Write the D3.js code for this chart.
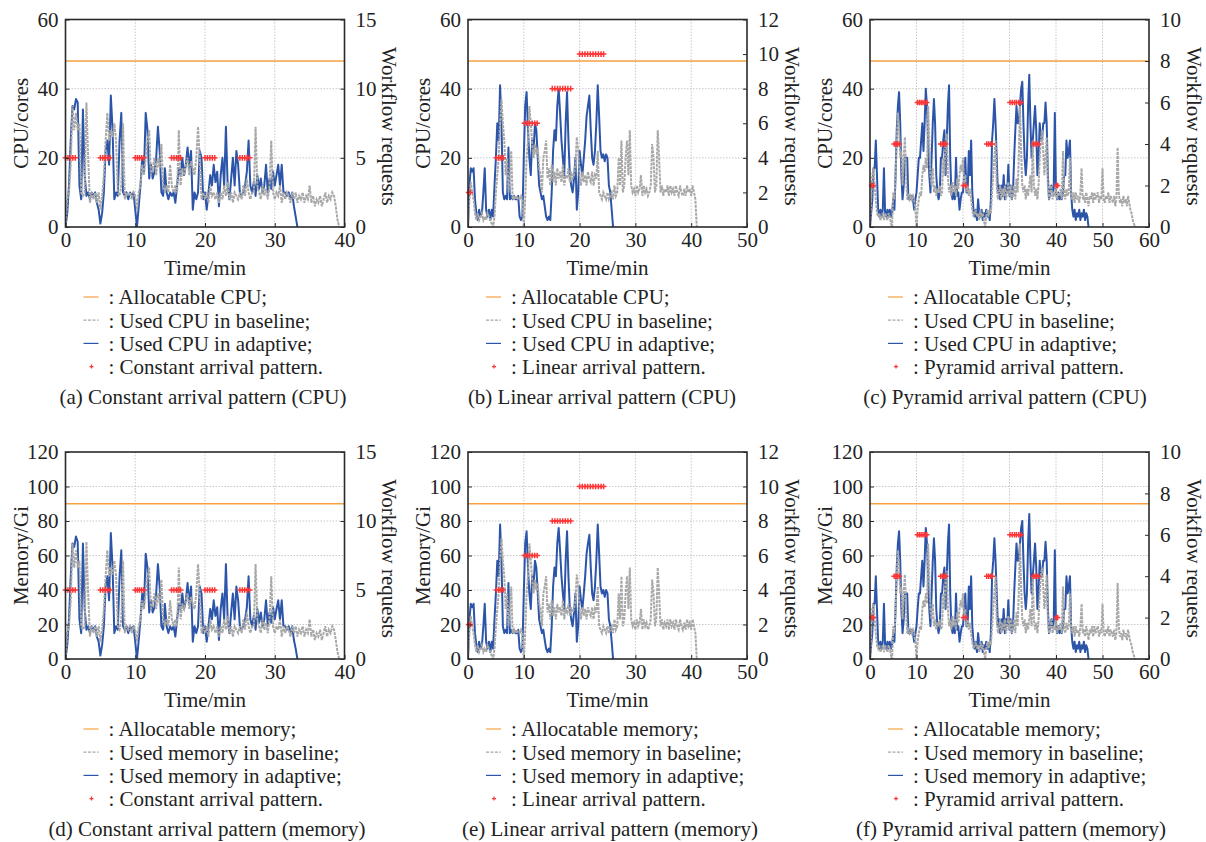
<!DOCTYPE html>
<html lang="en"><head>
<meta charset="utf-8">
<title>CPU and memory usage under arrival patterns</title>
<script src="https://cdnjs.cloudflare.com/ajax/libs/d3/7.8.5/d3.min.js"></script>
<style>
body { margin: 0; background: #fff; }
svg text { font-family: "Liberation Serif", "Times New Roman", serif; font-size: 21px; fill: #222; }
</style>
</head>
<body>
<svg id="chart" width="1206" height="842"></svg>
<script>

// samples are taken every 0.25 min
var timeStep = 0.25;
var cpuAllocatable = 48;
var memAllocatable = 90;

var cpuConstAdaptive = [0,4,12,25, 35,34,37,36, 12,8,34,15, 9,10,8,10, 9,10,7,5, 1,4,10,22, 25,18,38,28, 8,10,9,25,
  33,10,9,10, 8,10,9,10, 5,0,6,12, 20,16,33,28, 14,18,14,16, 20,29,22,10, 9,17,10,8, 10,9,10,7, 12,17,15,20,
  15,18,23,17, 22,5,10,8, 10,22,20,8, 10,5,10,15, 12,18,13,16, 6,15,20,12, 29,12,8,14, 20,12,22,18, 10,9,10,12,
  16,25,12,10, 13,9,15,11, 14,10,12,18, 10,14,11,16, 12,15,18,12, 18,10,10,9, 10,8,10,6, 3,0];
var cpuConstBaseline = [0,8,10,18, 35,28,33,28, 30,10,9,10, 36,20,7,10, 8,10,7,10, 5,9,15,25, 33,25,28,26, 30,25,10,9,
  12,30,8,10, 9,10,8,10, 9,5,10,12, 18,15,20,25, 28,15,17,20, 15,20,17,24, 12,10,12,10, 18,12,10,12, 10,28,12,17,
  15,18,20,15, 19,17,15,20, 29,20,8,10, 8,10,7,12, 9,10,8,10, 7,10,8,12, 9,13,8,10, 7,10,9,8, 10,8,12,9,
  14,10,8,10, 10,29,12,10, 8,12,9,11, 8,12,25,10, 8,10,9,12, 7,10,8,10, 9,7,10,8, 10,7,9,8, 10,7,9,8,
  12,7,9,6, 8,7,9,6, 8,10,7,9, 8,10,9,6, 2,0];
var cpuLinearAdaptive = [0,12,17,16, 17,8,4,2, 5,3,4,10, 17,5,3,5, 2,5,3,12, 20,30,25,41, 30,10,8,9, 8,23,8,9,
  8,9,8,8, 9,3,2,3, 20,35,39,28, 20,15,25,22, 30,28,20,12, 10,8,9,6, 3,2,3,2, 10,22,28,25, 35,40,33,25,
  20,15,30,39, 25,15,12,10, 14,20,5,10, 22,18,15,20, 25,32,35,38, 28,20,18,22, 30,41,32,22, 20,21,19,21,
  20,12,10,5, 0];
var cpuLinearBaseline = [0,8,13,10, 8,4,2,4, 2,3,4,2, 3,2,4,3, 2,1,0,3, 10,15,20,30, 37,30,25,15, 20,10,15,22,
  8,9,8,9, 8,8,9,8, 0,8,20,25, 35,30,24,20, 24,21,23,17, 15,10,20,22, 25,14,17,12, 18,13,16,12, 17,14,16,13,
  18,12,15,14, 17,13,16,14, 15,18,26,22, 15,12,16,13, 15,12,16,14, 13,16,12,15, 14,22,10,9, 8,10,9,8,
  10,8,9,10, 8,12,9,10, 20,12,25,10, 12,20,25,15, 28,12,10,11, 9,12,10,11, 15,9,12,10, 11,9,10,12,
  24,20,10,12, 28,20,10,12, 9,11,10,12, 9,12,10,11, 9,12,10,9, 12,10,9,11, 9,12,10,11, 9,12,10,8, 0];
var cpuPyramidAdaptive = [0,4,8,17, 17,25,15,5, 3,5,3,5, 17,4,3,5, 3,5,3,4, 8,5,15,28, 35,39,30,15, 8,12,20,20,
  20,8,9,8, 9,8,5,8, 10,15,20,20, 25,30,22,30, 40,35,25,15, 10,20,30,37, 30,15,10,8, 10,20,20,25, 28,15,25,35,
  41,20,10,8, 10,8,20,9, 10,5,8,10, 10,15,20,10, 10,22,15,25, 10,5,3,5, 2,8,4,3, 5,2,4,3, 5,3,4,2,
  8,25,30,37, 30,20,10,12, 8,12,9,15, 8,12,10,18, 9,12,8,10, 20,28,35,30, 30,35,40,42, 30,20,15,20,
  35,44,30,20, 25,30,35,28, 15,20,30,25, 25,30,30,36, 30,15,8,10, 12,10,11,33, 10,8,10,8, 9,8,10,15,
  15,25,20,22, 25,10,5,3, 5,2,4,3, 5,2,4,3, 5,2,4,3, 0];
var cpuPyramidBaseline = [0,8,15,17, 12,8,4,3, 4,2,3,4, 2,4,3,2, 4,3,1,0, 10,8,15,25, 33,28,20,22, 12,20,26,15,
  8,9,8,9, 8,9,8,5, 0,5,8,10, 9,15,18,16, 20,17,35,25, 15,12,17,10, 12,9,11,10, 12,9,10,20, 15,25,27,15,
  10,12,9,13, 10,12,9,14, 11,15,18,16, 20,12,15,10, 12,9,11,8, 5,3,4,5, 3,4,2,5, 3,4,2,0, 3,5,3,5,
  4,10,15,20, 25,12,8,10, 12,8,11,9, 12,8,10,13, 9,12,8,10, 12,8,14,10, 20,35,22,12, 10,12,8,11,
  9,12,15,10, 25,12,9,11, 8,12,20,25, 28,22,15,20, 26,12,8,10, 12,8,10,9, 12,8,10,9, 11,8,22,10,
  8,11,9,10, 20,9,8,10, 7,10,8,9, 7,10,17,8, 9,7,10,8, 6,9,8,10, 7,10,8,9, 10,7,9,8, 17,8,7,9,
  8,10,7,9, 8,7,9,6, 8,23,10,7, 8,6,9,7, 8,6,9,7, 5,4,2,1, 0];

var memConstAdaptive = [0,8,23,48, 67,65,71,68, 23,15,67,29, 17,19,15,19, 17,19,13,10, 2,8,19,42, 48,34,73,53, 15,19,17,48,
  63,19,17,19, 15,19,17,19, 10,0,11,23, 38,30,61,53, 27,34,27,30, 38,55,42,19, 17,32,19,15, 19,17,19,13, 23,32,29,38,
  29,34,44,32, 42,10,19,15, 19,42,38,15, 19,10,19,29, 23,34,25,30, 11,29,38,23, 55,23,15,27, 38,23,42,34, 19,17,19,23,
  30,48,23,19, 25,17,29,21, 27,19,23,34, 19,27,21,30, 23,29,34,23, 34,19,19,17, 19,15,19,11, 6,0];
var memConstBaseline = [0,15,19,34, 67,53,63,53, 57,19,17,19, 68,38,13,19, 15,19,13,19, 10,17,29,48, 63,48,53,49, 57,48,19,17,
  23,57,15,19, 17,19,15,19, 17,10,19,23, 34,29,38,48, 53,29,32,38, 29,38,32,46, 23,19,23,19, 34,23,19,23, 19,53,23,32,
  29,34,38,29, 36,32,29,38, 55,38,15,19, 15,19,13,23, 17,19,15,19, 13,19,15,23, 17,25,15,19, 13,19,17,15, 19,15,23,17,
  27,19,15,19, 19,55,23,19, 15,23,17,21, 15,23,48,19, 15,19,17,23, 13,19,15,19, 17,13,19,15, 19,13,17,15, 19,13,17,15,
  23,13,17,11, 15,13,17,11, 15,19,13,17, 15,19,17,11, 4,0];
var memLinearAdaptive = [0,23,32,30, 32,15,8,4, 10,6,8,19, 32,10,6,10, 4,10,6,23, 38,57,48,78, 57,19,15,17, 15,44,15,17,
  15,17,15,15, 17,6,4,6, 38,67,74,53, 38,29,48,42, 57,53,38,23, 19,15,17,11, 6,4,6,4, 19,42,53,48, 67,76,63,48,
  38,29,57,74, 48,29,23,19, 27,38,10,19, 42,34,29,38, 48,61,67,72, 53,38,34,42, 57,78,61,42, 38,40,36,40,
  38,23,19,10, 0];
var memLinearBaseline = [0,15,25,19, 15,8,4,8, 4,6,8,4, 6,4,8,6, 4,2,0,6, 19,29,38,57, 70,57,48,29, 38,19,29,42,
  15,17,15,17, 15,15,17,15, 0,15,38,48, 67,57,46,38, 46,40,44,32, 29,19,38,42, 48,27,32,23, 34,25,30,23, 32,27,30,25,
  34,23,29,27, 32,25,30,27, 29,34,49,42, 29,23,30,25, 29,23,30,27, 25,30,23,29, 27,42,19,17, 15,19,17,15,
  19,15,17,19, 15,23,17,19, 38,23,48,19, 23,38,48,29, 53,23,19,21, 17,23,19,21, 29,17,23,19, 21,17,19,23,
  46,38,19,23, 53,38,19,23, 17,21,19,23, 17,23,19,21, 17,23,19,17, 23,19,17,21, 17,23,19,21, 17,23,19,15, 0];
var memPyramidAdaptive = [0,8,15,32, 32,48,29,10, 6,10,6,10, 32,8,6,10, 6,10,6,8, 15,10,29,53, 67,74,57,29, 15,23,38,38,
  38,15,17,15, 17,15,10,15, 19,29,38,38, 48,57,42,57, 76,67,48,29, 19,38,57,70, 57,29,19,15, 19,38,38,48, 53,29,48,67,
  78,38,19,15, 19,15,38,17, 19,10,15,19, 19,29,38,19, 19,42,29,48, 19,10,6,10, 4,15,8,6, 10,4,8,6, 10,6,8,4,
  15,48,57,70, 57,38,19,23, 15,23,17,29, 15,23,19,34, 17,23,15,19, 38,53,67,57, 57,67,76,80, 57,38,29,38,
  67,84,57,38, 48,57,67,53, 29,38,57,48, 48,57,57,68, 57,29,15,19, 23,19,21,63, 19,15,19,15, 17,15,19,29,
  29,48,38,42, 48,19,10,6, 10,4,8,6, 10,4,8,6, 10,4,8,6, 0];
var memPyramidBaseline = [0,15,29,32, 23,15,8,6, 8,4,6,8, 4,8,6,4, 8,6,2,0, 19,15,29,48, 63,53,38,42, 23,38,49,29,
  15,17,15,17, 15,17,15,10, 0,10,15,19, 17,29,34,30, 38,32,67,48, 29,23,32,19, 23,17,21,19, 23,17,19,38, 29,48,51,29,
  19,23,17,25, 19,23,17,27, 21,29,34,30, 38,23,29,19, 23,17,21,15, 10,6,8,10, 6,8,4,10, 6,8,4,0, 6,10,6,10,
  8,19,29,38, 48,23,15,19, 23,15,21,17, 23,15,19,25, 17,23,15,19, 23,15,27,19, 38,67,42,23, 19,23,15,21,
  17,23,29,19, 48,23,17,21, 15,23,38,48, 53,42,29,38, 49,23,15,19, 23,15,19,17, 23,15,19,17, 21,15,42,19,
  15,21,17,19, 38,17,15,19, 13,19,15,17, 13,19,32,15, 17,13,19,15, 11,17,15,19, 13,19,15,17, 19,13,17,15, 32,15,13,17,
  15,19,13,17, 15,13,17,11, 15,44,19,13, 15,11,17,13, 15,11,17,13, 10,8,4,2, 0];

// [arrival time in min, workflow requests]
var constantArrivals = [[0,5],[0.35,5],[0.7,5],[1.05,5],[1.4,5], [5,5],[5.35,5],[5.7,5],[6.05,5],[6.4,5],
  [10,5],[10.3,5],[10.6,5],[10.9,5],[11.2,5], [15.2,5],[15.55,5],[15.9,5],[16.2,5],[16.5,5],
  [20,5],[20.35,5],[20.7,5],[21.05,5],[21.4,5], [25,5],[25.35,5],[25.7,5],[26.05,5],[26.4,5]];
var linearArrivals = [[0.1,2],[0.4,2], [5.1,4],[5.5,4],[5.9,4],[6.3,4],
  [10.1,6],[10.55,6],[11,6],[11.5,6],[11.95,6],[12.4,6],
  [15.1,8],[15.57,8],[16.04,8],[16.5,8],[16.97,8],[17.44,8],[17.9,8],[18.4,8],
  [20,10],[20.48,10],[20.96,10],[21.44,10],[21.92,10],[22.4,10],[22.88,10],[23.36,10],[23.84,10],[24.3,10]];
var pyramidArrivals = [[0.35,2],[0.75,2], [5.2,4],[5.57,4],[5.93,4],[6.3,4],
  [10.2,6],[10.6,6],[11,6],[11.4,6],[11.8,6],[12.2,6], [15.2,4],[15.57,4],[15.93,4],[16.3,4],
  [20.1,2],[20.6,2], [25.1,4],[25.5,4],[25.9,4],[26.3,4],
  [30.1,6],[30.6,6],[31.1,6],[31.5,6],[32,6],[32.5,6], [35.1,4],[35.47,4],[35.83,4],[36.2,4],
  [40.05,2],[40.35,2]];

var cpuTicks = [0, 20, 40, 60];
var memTicks = [0, 20, 40, 60, 80, 100, 120];

var metrics = {
  cpu: {yMax: 60, ticks: cpuTicks, title: "CPU/cores", alloc: cpuAllocatable,
        names: [": Allocatable CPU;", ": Used CPU in baseline;", ": Used CPU in adaptive;"], tag: "(CPU)"},
  mem: {yMax: 120, ticks: memTicks, title: "Memory/Gi", alloc: memAllocatable,
        names: [": Allocatable memory;", ": Used memory in baseline;", ": Used memory in adaptive;"], tag: "(memory)"}
};

var panels = [
  {letter: "a", col: 0, row: 0, metric: "cpu", xMax: 40, rMax: 15, rStep: 5, pattern: "Constant", adaptive: cpuConstAdaptive, baseline: cpuConstBaseline, arrivals: constantArrivals},
  {letter: "b", col: 1, row: 0, metric: "cpu", xMax: 50, rMax: 12, rStep: 2, pattern: "Linear", adaptive: cpuLinearAdaptive, baseline: cpuLinearBaseline, arrivals: linearArrivals},
  {letter: "c", col: 2, row: 0, metric: "cpu", xMax: 60, rMax: 10, rStep: 2, pattern: "Pyramid", adaptive: cpuPyramidAdaptive, baseline: cpuPyramidBaseline, arrivals: pyramidArrivals},
  {letter: "d", col: 0, row: 1, metric: "mem", xMax: 40, rMax: 15, rStep: 5, pattern: "Constant", adaptive: memConstAdaptive, baseline: memConstBaseline, arrivals: constantArrivals},
  {letter: "e", col: 1, row: 1, metric: "mem", xMax: 50, rMax: 12, rStep: 2, pattern: "Linear", adaptive: memLinearAdaptive, baseline: memLinearBaseline, arrivals: linearArrivals},
  {letter: "f", col: 2, row: 1, metric: "mem", xMax: 60, rMax: 10, rStep: 2, pattern: "Pyramid", adaptive: memPyramidAdaptive, baseline: memPyramidBaseline, arrivals: pyramidArrivals}
];

var colLeft = [65.5, 468, 870];
var captionX = [[203, 602, 1005], [207, 610, 1011]];
var rowTop = [19.5, 452];
var rowBottom = [227, 659];
var plotW = 279;

var blue = "#2c55aa", grey = "#a8a8a8", orange = "#f7a141", red = "#ff3434";
var plusPath = "M-2.8,0H2.8M0,-2.8V2.8";

var svg = d3.select("#chart");

function drawPanel(p) {
  var m = metrics[p.metric];
  var left = colLeft[p.col], right = left + plotW;
  var top = rowTop[p.row], bottom = rowBottom[p.row];

  var x = d3.scaleLinear().domain([0, p.xMax]).range([left, right]);
  var y = d3.scaleLinear().domain([0, m.yMax]).range([bottom, top]);
  var y2 = d3.scaleLinear().domain([0, p.rMax]).range([bottom, top]);
  var xTicks = d3.range(0, p.xMax + 1, 10);
  var rTicks = d3.range(0, p.rMax + 1, p.rStep);

  var g = svg.append("g").attr("class", "panel_" + p.letter);

  g.append("clipPath").attr("id", "clip_" + p.letter)
    .append("rect").attr("x", left).attr("y", top).attr("width", plotW).attr("height", bottom - top);

  // dotted grid
  g.selectAll(".gridx").data(xTicks.slice(1, -1)).enter().append("line")
    .attr("x1", function (d) { return x(d); }).attr("x2", function (d) { return x(d); })
    .attr("y1", top).attr("y2", bottom)
    .attr("stroke", "#c9c9c9").attr("stroke-width", 1).attr("stroke-dasharray", "1.5,1.5");
  g.selectAll(".gridy").data(m.ticks.slice(1, -1)).enter().append("line")
    .attr("x1", left).attr("x2", right)
    .attr("y1", function (d) { return y(d); }).attr("y2", function (d) { return y(d); })
    .attr("stroke", "#c9c9c9").attr("stroke-width", 1).attr("stroke-dasharray", "1.5,1.5");

  var line = d3.line()
    .x(function (d, i) { return x(i * timeStep); })
    .y(function (d) { return y(d); });

  var plot = g.append("g").attr("clip-path", "url(#clip_" + p.letter + ")");
  plot.append("path").datum(p.adaptive).attr("d", line)
    .attr("fill", "none").attr("stroke", blue).attr("stroke-width", 2).attr("stroke-linejoin", "round");
  plot.append("path").datum(p.baseline).attr("d", line)
    .attr("fill", "none").attr("stroke", grey).attr("stroke-width", 2).attr("stroke-dasharray", "3,1");
  plot.append("line")
    .attr("x1", x(0)).attr("x2", x(p.xMax))
    .attr("y1", y(m.alloc)).attr("y2", y(m.alloc))
    .attr("stroke", orange).attr("stroke-width", 1.4);

  g.selectAll(".arrival").data(p.arrivals).enter().append("path")
    .attr("d", plusPath)
    .attr("transform", function (d) { return "translate(" + x(d[0]) + "," + y2(d[1]) + ")"; })
    .attr("fill", "none").attr("stroke", red).attr("stroke-width", 1.5);

  // frame
  g.append("rect").attr("x", left).attr("y", top).attr("width", plotW).attr("height", bottom - top)
    .attr("fill", "none").attr("stroke", "#2a2a2a").attr("stroke-width", 1.6);

  var ax = g.append("g").attr("transform", "translate(0," + bottom + ")")
    .call(d3.axisBottom(x).tickValues(xTicks).tickSize(-4).tickPadding(5));
  var ay = g.append("g").attr("transform", "translate(" + left + ",0)")
    .call(d3.axisLeft(y).tickValues(m.ticks).tickSize(-4).tickPadding(7));
  var ar = g.append("g").attr("transform", "translate(" + right + ",0)")
    .call(d3.axisRight(y2).tickValues(rTicks).tickSize(-4).tickPadding(11));
  [ax, ay, ar].forEach(function (a) {
    a.select(".domain").remove();
    a.selectAll(".tick line").attr("stroke", "#2a2a2a");
    a.attr("font-size", null).attr("font-family", null);
  });

  g.append("text").attr("x", (left + right) / 2).attr("y", bottom + 41).attr("dy", "0.35em")
    .attr("text-anchor", "middle").text("Time/min");
  g.append("text").attr("transform", "translate(" + (left - 45) + "," + (top + bottom) / 2 + ") rotate(-90)")
    .attr("dy", "0.35em").attr("text-anchor", "middle").text(m.title);
  g.append("text").attr("transform", "translate(" + (right + 45) + "," + ((top + bottom) / 2 + 3) + ") rotate(90)")
    .attr("dy", "0.35em").attr("text-anchor", "middle").text("Workflow requests");

  // legend
  var lx = left + 18;
  var rows = [m.names[0], m.names[1], m.names[2], ": " + p.pattern + " arrival pattern."];
  rows.forEach(function (label, i) {
    var ly = bottom + 70 + i * 23.2;
    if (i < 3) {
      g.append("line").attr("x1", lx).attr("x2", lx + 15).attr("y1", ly).attr("y2", ly)
        .attr("stroke", [orange, grey, blue][i]).attr("stroke-width", 1.2)
        .attr("stroke-dasharray", i === 1 ? "3,1.5" : null);
    } else {
      g.append("path").attr("d", "M-2,0H2M0,-2V2").attr("transform", "translate(" + (lx + 8) + "," + ly + ")")
        .attr("stroke", red).attr("stroke-width", 1.2);
    }
    g.append("text").attr("x", lx + 25).attr("y", ly).attr("dy", "0.35em").text(label);
  });

  g.append("text").attr("x", captionX[p.row][p.col]).attr("y", bottom + 170).attr("dy", "0.35em")
    .attr("text-anchor", "middle")
    .text("(" + p.letter + ") " + p.pattern + " arrival pattern " + m.tag);
}

panels.forEach(drawPanel);

</script>
</body></html>
